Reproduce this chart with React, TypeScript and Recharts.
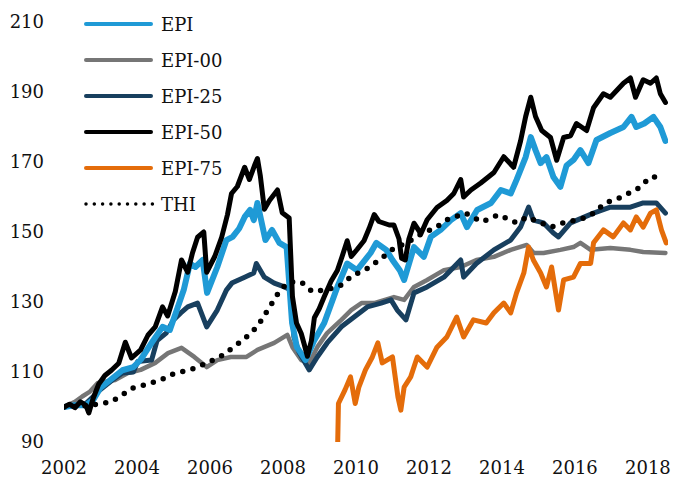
import { Legend, Line, LineChart, XAxis, YAxis } from "recharts";

const YEAR_TICKS = [2002, 2004, 2006, 2008, 2010, 2012, 2014, 2016, 2018];
const VALUE_TICKS = [90, 110, 130, 150, 170, 190, 210];

const EPI_YEARS = [
  2002.0, 2002.3, 2002.6, 2002.8, 2003.0, 2003.3, 2003.6, 2003.9, 2004.1, 2004.4, 2004.7, 2004.9,
  2005.1, 2005.28, 2005.45, 2005.6, 2005.8, 2005.92, 2006.2, 2006.45, 2006.62, 2006.8, 2006.95,
  2007.1, 2007.2, 2007.3, 2007.52, 2007.7, 2007.9, 2008.1, 2008.25, 2008.38, 2008.62, 2008.86,
  2009.13, 2009.49, 2009.76, 2010.03, 2010.4, 2010.56, 2010.83, 2011.0, 2011.2, 2011.32, 2011.59,
  2011.86, 2012.05, 2012.32, 2012.6, 2012.87, 2013.04, 2013.32, 2013.7, 2013.97, 2014.24, 2014.4,
  2014.65, 2014.79, 2014.92, 2015.06, 2015.22, 2015.41, 2015.6, 2015.77, 2015.96, 2016.15, 2016.37,
  2016.59, 2016.97, 2017.33, 2017.55, 2017.68, 2017.9, 2018.15, 2018.34, 2018.48,
];
const EPI_VALUES = [
  100, 100.5, 100.5, 102, 105.5, 108, 110.5, 111.4, 113.5, 118.3, 122.9, 122,
  128, 133.4, 141, 140, 142, 132.6, 140, 147.7, 148.6, 151, 154.3,
  156.3, 153.4, 158.3, 147.7, 150.6, 146.9, 145.7, 124, 117.1, 113.4, 119.1,
  124, 134.3, 141, 139.1, 144, 146.9, 144.9, 142, 139.1, 136.3, 145.7,
  142.9, 148.6, 150.6, 153.4, 155.4, 151.4, 156.3, 158.3, 162, 161, 164.9,
  171.4, 177.1, 173.4, 169.7, 171.4, 165.7, 162.9, 169, 170.6, 173.4, 169.7,
  176.3, 178.3, 180, 182.9, 180, 181, 182.9, 180, 176,
];

const EPI00_YEARS = [
  2002.0, 2002.3, 2002.5, 2002.7, 2002.93, 2003.4, 2003.75, 2004.1, 2004.5, 2004.85, 2005.22,
  2005.57, 2005.91, 2006.2, 2006.57, 2007.0, 2007.3, 2007.76, 2008.12, 2008.26, 2008.5, 2008.72,
  2008.94, 2009.21, 2009.6, 2009.87, 2010.15, 2010.5, 2011.04, 2011.32, 2011.59, 2011.95, 2012.41,
  2012.87, 2013.3, 2013.78, 2014.24, 2014.68, 2014.87, 2015.14, 2015.6, 2015.96, 2016.15, 2016.43,
  2016.97, 2017.52, 2017.87, 2018.48,
];
const EPI00_VALUES = [
  100, 101.5, 103, 104.3, 106.9, 107.7, 109.7, 110.6, 112.6, 115.4, 116.9,
  114.3, 111.4, 113.4, 114.3, 114.3, 116.3, 118.3, 120.6, 117.1, 113.4, 112.6,
  117.1, 121.1, 124.9, 127.7, 129.7, 129.7, 131.4, 130.6, 134.3, 136.3, 139.1,
  140, 142, 142.9, 144.9, 146.3, 144, 144, 144.9, 145.7, 146.9, 144.9,
  145.4, 144.9, 144.3, 144,
];

const EPI25_YEARS = [
  2002.0, 2002.3, 2002.6, 2002.8, 2003.0, 2003.3, 2003.6, 2003.9, 2004.02, 2004.4, 2004.55, 2004.8,
  2005.0, 2005.2, 2005.39, 2005.66, 2005.91, 2006.2, 2006.45, 2006.6, 2006.95, 2007.2, 2007.27,
  2007.49, 2007.76, 2008.04, 2008.22, 2008.3, 2008.45, 2008.72, 2008.94, 2009.21, 2009.6, 2009.95,
  2010.31, 2010.69, 2010.96, 2011.13, 2011.37, 2011.59, 2011.95, 2012.41, 2012.87, 2012.95, 2013.3,
  2013.78, 2014.24, 2014.51, 2014.73, 2014.86, 2015.14, 2015.41, 2015.55, 2015.88, 2016.51, 2016.97,
  2017.52, 2017.87, 2018.23, 2018.48,
];
const EPI25_VALUES = [
  100, 100.5, 101, 103, 105, 107.5, 109.7, 110, 113, 113.4, 119, 121.1,
  124.9, 126.9, 128.6, 129.7, 122.9, 127.7, 133.4, 135.4, 137.1, 138.3, 141,
  137.1, 135.4, 134.3, 133.4, 120, 115.4, 110.6, 114.3, 118.3, 122.9, 125.7,
  128.6, 129.7, 130.6, 127.7, 124.9, 132.6, 134.3, 137.1, 142, 137.1, 141,
  144.9, 147.7, 151.4, 157.1, 153.4, 152.6, 149.7, 148.6, 152.6, 155.4, 157.1,
  157.1, 158.3, 158.3, 155.4,
];

const EPI50_YEARS = [
  2002.0, 2002.15, 2002.3, 2002.45, 2002.6, 2002.68, 2002.8, 2002.95, 2003.12, 2003.3, 2003.5,
  2003.68, 2003.85, 2004.1, 2004.3, 2004.5, 2004.7, 2004.84, 2005.05, 2005.22, 2005.39, 2005.52,
  2005.66, 2005.83, 2005.91, 2006.13, 2006.32, 2006.48, 2006.59, 2006.75, 2006.95, 2007.08, 2007.22,
  2007.3, 2007.38, 2007.49, 2007.63, 2007.85, 2007.98, 2008.17, 2008.26, 2008.37, 2008.5, 2008.58,
  2008.67, 2008.78, 2008.86, 2008.99, 2009.13, 2009.32, 2009.49, 2009.62, 2009.76, 2009.87, 2010.03,
  2010.22, 2010.36, 2010.5, 2010.63, 2010.77, 2010.91, 2011.04, 2011.18, 2011.25, 2011.35, 2011.45,
  2011.59, 2011.78, 2011.95, 2012.22, 2012.49, 2012.68, 2012.87, 2012.95, 2013.15, 2013.42, 2013.78,
  2014.05, 2014.32, 2014.51, 2014.65, 2014.79, 2014.92, 2015.09, 2015.33, 2015.5, 2015.69, 2015.88,
  2016.04, 2016.32, 2016.51, 2016.78, 2016.97, 2017.33, 2017.52, 2017.66, 2017.87, 2018.07, 2018.23,
  2018.34, 2018.48,
];
const EPI50_VALUES = [
  100, 100.8, 99.8, 101.5, 100.5, 98.3, 102.5, 106.5, 109, 110.5, 112.5,
  118.5, 114, 116.3, 120.5, 122.9, 128.6, 126, 133, 142, 138.5, 144,
  148.5, 150, 138.5, 143, 148.5, 155, 161, 163, 168.5, 165, 169,
  171, 166, 156.5, 159, 162, 155.5, 154, 131.5, 124, 121, 118,
  114.5, 119, 125.5, 128, 131.5, 136, 139, 143, 147.5, 143, 145,
  147.5, 151, 155, 153, 152.5, 152, 152, 148, 142.5, 142, 148,
  152.5, 149.5, 153.5, 157, 159, 161, 165, 160, 162, 164, 167,
  171.5, 168.5, 176, 183, 188.5, 183, 179, 177, 170.5, 177, 177.5,
  181, 179, 185.5, 189.5, 188.5, 192.5, 194, 188.5, 193.5, 192.5, 194,
  189.5, 187,
];

const EPI75_YEARS = [
  2009.5, 2009.52, 2009.7, 2009.85, 2009.98, 2010.08, 2010.26, 2010.45, 2010.6, 2010.72, 2011.0,
  2011.15, 2011.23, 2011.32, 2011.5, 2011.68, 2011.95, 2012.22, 2012.49, 2012.76, 2012.95, 2013.22,
  2013.57, 2013.78, 2014.05, 2014.24, 2014.4, 2014.6, 2014.73, 2014.86, 2015.06, 2015.22, 2015.36,
  2015.55, 2015.69, 2015.96, 2016.15, 2016.43, 2016.51, 2016.78, 2017.05, 2017.33, 2017.52, 2017.68,
  2017.87, 2018.07, 2018.23, 2018.37, 2018.5,
];
const EPI75_VALUES = [
  90, 101, 104.9, 108.6, 101, 105.7, 110.6, 114.3, 118.3, 112.6, 114.3,
  102.9, 99.1, 105.7, 108.6, 114.3, 111.4, 117.1, 120, 125.7, 120, 124.9,
  124, 126.9, 129.7, 126.9, 132.6, 138.3, 145.7, 142, 138.3, 134.3, 140,
  127.7, 136.3, 137.1, 141, 141, 146.9, 150.6, 148.6, 152.6, 150.6, 154.3,
  151.4, 155.4, 156.3, 150.6, 146.9,
];

const THI_YEARS = [
  2002.0, 2002.5, 2002.9, 2003.3, 2003.6, 2003.9, 2004.3, 2004.7, 2005.0, 2005.5, 2005.9, 2006.3,
  2006.7, 2007.0, 2007.3, 2007.6, 2007.9, 2008.15, 2008.5, 2008.8, 2009.2, 2009.55, 2009.9, 2010.3,
  2010.7, 2011.0, 2011.4, 2011.8, 2012.2, 2012.5, 2013.0, 2013.45, 2013.9, 2014.4, 2014.7, 2015.0,
  2015.36, 2015.75, 2016.1, 2016.45, 2016.84, 2017.28, 2017.75, 2018.07, 2018.45,
];
const THI_VALUES = [
  100, 100.3, 100.8, 101.5, 103.5, 105.5, 106.5, 108, 109.5, 110.8, 112.5, 114.5,
  117.5, 120, 123, 128, 133, 135.7, 135.7, 133, 133.5, 134.5, 137.5, 139.5,
  142.5, 145, 147, 149.5, 151.4, 153.5, 155.4, 152.9, 154.9, 152.6, 154.3, 152.9,
  151.4, 152.9, 153.4, 154.9, 158.3, 160, 162.6, 165.7, 165.7,
];

const FONT = "'DejaVu Serif', Georgia, serif";

type Serie = {
  name: string;
  color: string;
  width: number;
  years: number[];
  values: number[];
  dotted?: boolean;
};

const SERIES: Record<string, Serie> = {
  EPI: { name: "EPI", color: "#1f9ad6", width: 6, years: EPI_YEARS, values: EPI_VALUES },
  EPI00: { name: "EPI-00", color: "#767676", width: 4.5, years: EPI00_YEARS, values: EPI00_VALUES },
  EPI25: { name: "EPI-25", color: "#183f5e", width: 5, years: EPI25_YEARS, values: EPI25_VALUES },
  EPI50: { name: "EPI-50", color: "#000000", width: 5, years: EPI50_YEARS, values: EPI50_VALUES },
  EPI75: { name: "EPI-75", color: "#e46c0a", width: 5, years: EPI75_YEARS, values: EPI75_VALUES },
  THI: { name: "THI", color: "#000000", width: 5.5, years: THI_YEARS, values: THI_VALUES, dotted: true },
};

// drawing order (last one on top) differs from legend order
const DRAW_ORDER = ["EPI00", "EPI25", "EPI75", "EPI", "EPI50", "THI"];
const LEGEND_ORDER = ["EPI", "EPI00", "EPI25", "EPI50", "EPI75", "THI"];

function toPoints(s: Serie) {
  return s.years.map((year, i) => ({ year, v: s.values[i] }));
}

function LegendBox() {
  return (
    <svg width={240} height={220} style={{ display: "block" }}>
      {LEGEND_ORDER.map((key, i) => {
        const s = SERIES[key];
        const cy = 24 + i * 36;
        return (
          <g key={key}>
            <line
              x1={86}
              x2={s.dotted ? 153 : 151}
              y1={cy}
              y2={cy}
              stroke={s.color}
              strokeWidth={s.dotted ? 3.5 : 4}
              strokeLinecap="round"
              strokeDasharray={s.dotted ? "0 8.3" : undefined}
            />
            <text x={161} y={cy + 7} fontSize={18} fontFamily={FONT} fill="#111">
              {s.name}
            </text>
          </g>
        );
      })}
    </svg>
  );
}

export default function App() {
  return (
    <div style={{ position: "absolute", left: 0, top: 0, width: 674, height: 480, background: "#fff" }}>
      <LineChart width={674} height={480} margin={{ top: 22, right: 6, bottom: 0, left: 0 }}>
        <XAxis
          dataKey="year"
          type="number"
          domain={[2002, 2018.55]}
          ticks={YEAR_TICKS}
          interval={0}
          allowDataOverflow
          height={38}
          tickLine={false}
          axisLine={false}
          tickMargin={13}
          tick={{ fill: "#111", fontSize: 18, fontFamily: FONT }}
        />
        <YAxis
          type="number"
          domain={[90, 210]}
          ticks={VALUE_TICKS}
          interval={0}
          allowDataOverflow
          width={64}
          tickLine={false}
          axisLine={false}
          tickMargin={14}
          tick={{ fill: "#111", fontSize: 18, fontFamily: FONT }}
        />
        <Legend
          layout="vertical"
          align="center"
          verticalAlign="middle"
          wrapperStyle={{ left: 0, top: 0, width: 240, height: 220 }}
          content={() => <LegendBox />}
        />
        {DRAW_ORDER.map((key) => {
          const s = SERIES[key];
          return (
            <Line
              key={key}
              data={toPoints(s)}
              dataKey="v"
              name={s.name}
              type="linear"
              stroke={s.color}
              strokeWidth={s.width}
              strokeLinejoin="round"
              strokeLinecap="round"
              strokeDasharray={s.dotted ? "0 10.5" : undefined}
              dot={false}
              activeDot={false}
              isAnimationActive={false}
            />
          );
        })}
      </LineChart>
    </div>
  );
}
